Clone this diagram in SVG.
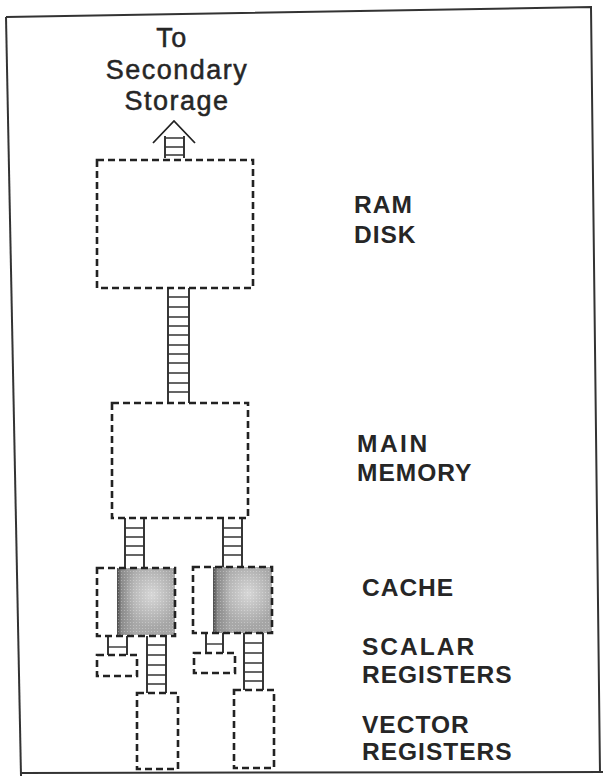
<svg xmlns="http://www.w3.org/2000/svg" width="603" height="776" viewBox="0 0 603 776">
<defs>
<style>
.box{fill:none;stroke:#222;stroke-width:2.6;stroke-dasharray:7 4}
.rail{fill:none;stroke:#222;stroke-width:1.8}
.rung{fill:none;stroke:#333;stroke-width:1.4}
.frame{fill:none;stroke:#333;stroke-width:2}
.lbl{font-family:"Liberation Sans",Arial,sans-serif;font-weight:bold;font-size:24.5px;fill:#262626;letter-spacing:1px}
.top{font-family:"Liberation Sans",Arial,sans-serif;font-size:27px;fill:#262626;stroke:#262626;stroke-width:0.5;letter-spacing:1.5px;text-anchor:middle}
</style>
<linearGradient id="shadeL" x1="0" y1="0" x2="1" y2="0">
<stop offset="0" stop-color="#4a4a4a"/>
<stop offset="0.08" stop-color="#8c8c8c"/>
<stop offset="0.3" stop-color="#a8a8a8"/>
<stop offset="1" stop-color="#a4a4a4"/>
</linearGradient>
<radialGradient id="hi" cx="0.6" cy="0.4" r="0.5">
<stop offset="0" stop-color="#fff" stop-opacity="0.55"/>
<stop offset="1" stop-color="#fff" stop-opacity="0"/>
</radialGradient>
<pattern id="dots" width="3" height="3" patternUnits="userSpaceOnUse">
<circle cx="1.5" cy="1.5" r="0.6" fill="#fff" fill-opacity="0.35"/>
</pattern>
</defs>

<g id="frame">
<path class="frame" d="M6 17 L591 7 L600 773"/>
<path class="frame" d="M6 17 L21 776"/>
<path class="frame" d="M21 773 L603 772"/>
</g>

<g id="secondary-storage">
<text class="top" x="172" y="47">To</text>
<text class="top" x="177" y="79">Secondary</text>
<text class="top" x="177" y="110">Storage</text>
</g>

<g id="ram-disk">
<rect class="box" x="97" y="160" width="156" height="128"/>
<text class="lbl" x="354" y="213">RAM</text>
<text class="lbl" x="354" y="243">DISK</text>
</g>

<g id="main-memory">
<rect class="box" x="112" y="403" width="136" height="115"/>
<text class="lbl" x="357" y="452" style="letter-spacing:2.5px">MAIN</text>
<text class="lbl" x="357" y="481">MEMORY</text>
</g>

<g id="cache-1">
<rect x="117" y="568" width="58" height="67" fill="url(#shadeL)"/>
<rect x="117" y="568" width="58" height="67" fill="url(#dots)"/>
<rect x="117" y="568" width="58" height="67" fill="url(#hi)"/>
<rect class="box" x="97" y="568" width="78" height="68"/>
</g>
<g id="cache-2">
<rect x="213" y="567" width="59" height="66" fill="url(#shadeL)"/>
<rect x="213" y="567" width="59" height="66" fill="url(#dots)"/>
<rect x="213" y="567" width="59" height="66" fill="url(#hi)"/>
<rect class="box" x="193" y="567" width="79" height="66"/>
</g>
<g id="cache-label">
<text class="lbl" x="362" y="596">CACHE</text>
</g>

<g id="scalar-1"><rect class="box" x="97" y="655" width="40" height="21"/></g>
<g id="scalar-2"><rect class="box" x="194" y="653" width="41" height="20"/></g>
<g id="scalar-label">
<text class="lbl" x="362" y="655" style="letter-spacing:2px">SCALAR</text>
<text class="lbl" x="362" y="683">REGISTERS</text>
</g>

<g id="vector-1"><rect class="box" x="137" y="693" width="41" height="76"/></g>
<g id="vector-2"><rect class="box" x="234" y="690" width="40" height="78"/></g>
<g id="vector-label">
<text class="lbl" x="362" y="733">VECTOR</text>
<text class="lbl" x="362" y="760">REGISTERS</text>
</g>

<g id="connectors">
<path class="rail" d="M153 143 L174 121 L195 143" stroke-width="3"/>
<path class="rail" d="M165 136 V158 M184 136 V158"/>
<path class="rung" d="M165 138 H184 M165 147 H184 M165 155 H184"/>
<path class="rail" d="M168 288 V403 M189 288 V403"/>
<path class="rung" d="M168 297 H189 M168 307 H189 M168 317 H189 M168 326 H189 M168 335 H189 M168 345 H189 M168 354 H189 M168 363 H189 M168 373 H189 M168 383 H189 M168 392 H189"/>
<path class="rail" d="M125 518 V568 M144 518 V568"/>
<path class="rung" d="M125 528 H144 M125 537 H144 M125 546 H144 M125 555 H144"/>
<path class="rail" d="M223 518 V567 M242 518 V567"/>
<path class="rung" d="M223 528 H242 M223 537 H242 M223 546 H242 M223 555 H242"/>
<path class="rail" d="M108 636 V655 M127 636 V655"/>
<path class="rung" d="M108 647 H127"/>
<path class="rail" d="M206 633 V653 M223 633 V653"/>
<path class="rung" d="M206 644 H223"/>
<path class="rail" d="M147 636 V693 M166 636 V693"/>
<path class="rung" d="M147 645 H166 M147 655 H166 M147 665 H166 M147 675 H166 M147 684 H166"/>
<path class="rail" d="M244 633 V690 M263 633 V690"/>
<path class="rung" d="M244 643 H263 M244 653 H263 M244 663 H263 M244 672 H263 M244 681 H263"/>
</g>
</svg>
